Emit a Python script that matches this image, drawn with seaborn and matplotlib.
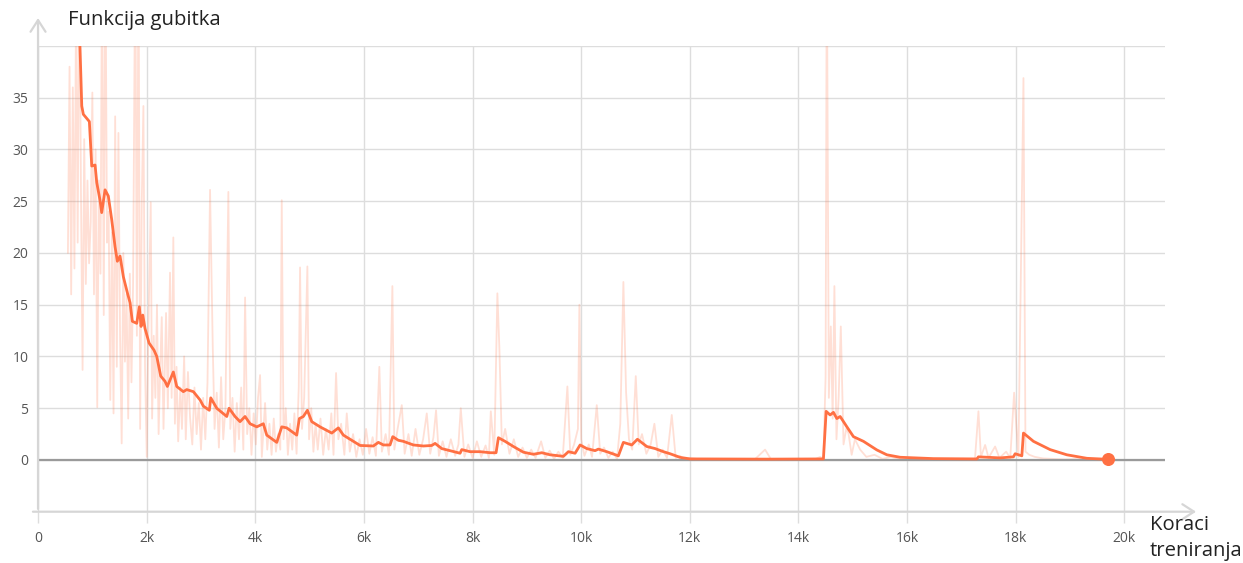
"""Loss curve (TensorBoard style) recreated with seaborn -> out.png"""

import matplotlib

matplotlib.use("Agg")
import matplotlib.pyplot as plt  # noqa: E402
import pandas as pd  # noqa: E402
import seaborn as sns  # noqa: E402

# smoothed loss (step, value)
smooth_steps = [
    700, 773, 805, 834, 945, 989, 1050, 1081, 1141, 1172, 1234, 1294, 1357, 1418,
    1460, 1510, 1571, 1652, 1694, 1736, 1817, 1865, 1897, 1928, 1970, 2044, 2136,
    2186, 2259, 2338, 2381, 2443, 2491, 2554, 2675, 2738, 2860, 2983, 3044, 3154,
    3180, 3290, 3475, 3517, 3627, 3719, 3811, 3904, 4027, 4148, 4211, 4395, 4487,
    4579, 4763, 4811, 4885, 4959, 5040, 5192, 5408, 5529, 5622, 5806, 5929, 6174,
    6266, 6358, 6481, 6531, 6634, 6726, 6910, 7095, 7249, 7310, 7433, 7586, 7770,
    7801, 7954, 8138, 8323, 8433, 8476, 8599, 8752, 8936, 9120, 9275, 9427, 9672,
    9765, 9888, 9980, 10103, 10256, 10317, 10471, 10685, 10777, 10931, 11035,
    11208, 11361, 11514, 11637, 11821, 12005, 12189, 13418, 14460, 14510, 14583,
    14644, 14707, 14768, 14892, 15013, 15197, 15443, 15627, 15872, 16485, 17284,
    17314, 17713, 17958, 17990, 18113, 18143, 18327, 18634, 18941, 19310, 19707,
]
smooth_loss = [
    48.0, 39.8, 34.2, 33.4, 32.7, 28.4, 28.5, 26.8, 25.1, 23.9, 26.1, 25.5, 23.2,
    20.6, 19.2, 19.7, 17.7, 16.0, 15.2, 13.4, 13.2, 14.8, 12.9, 14.0, 12.7, 11.3,
    10.6, 10.0, 8.1, 7.6, 7.1, 7.9, 8.5, 7.1, 6.6, 6.8, 6.6, 5.8, 5.2, 4.8, 6.0,
    5.0, 4.2, 5.0, 4.2, 3.7, 4.2, 3.5, 3.2, 3.5, 2.4, 1.7, 3.2, 3.1, 2.4, 4.0, 4.2,
    4.8, 3.7, 3.2, 2.6, 3.1, 2.4, 1.8, 1.4, 1.35, 1.7, 1.45, 1.45, 2.25, 1.9, 1.8,
    1.45, 1.35, 1.4, 1.6, 1.1, 0.9, 0.65, 1.0, 0.8, 0.8, 0.7, 0.7, 2.15, 1.8, 1.3,
    0.75, 0.55, 0.7, 0.5, 0.35, 0.8, 0.65, 1.45, 1.1, 0.9, 1.05, 0.8, 0.4, 1.7,
    1.45, 2.0, 1.3, 1.1, 0.8, 0.6, 0.25, 0.1, 0.1, 0.08, 0.1, 4.7, 4.35, 4.6, 4.0,
    4.2, 3.2, 2.25, 1.8, 0.97, 0.5, 0.26, 0.13, 0.1, 0.3, 0.2, 0.3, 0.6, 0.4, 2.6,
    1.8, 1.0, 0.5, 0.16, 0.06,
]

# raw (unsmoothed) loss
raw_steps = [
    550, 580, 610, 640, 670, 700, 730, 760, 790, 820, 850, 880, 910, 940, 970,
    1000, 1030, 1060, 1090, 1120, 1150, 1180, 1210, 1240, 1270, 1300, 1330, 1360,
    1390, 1420, 1450, 1480, 1510, 1540, 1570, 1600, 1630, 1660, 1690, 1720, 1750,
    1790, 1820, 1850, 1880, 1910, 1940, 1970, 2002, 2030, 2075, 2100, 2130, 2160,
    2190, 2220, 2250, 2278, 2310, 2357, 2390, 2430, 2460, 2491, 2520, 2550, 2580,
    2620, 2650, 2690, 2720, 2760, 2800, 2840, 2880, 2920, 2960, 3000, 3040, 3080,
    3120, 3167, 3217, 3250, 3290, 3330, 3370, 3410, 3450, 3504, 3540, 3580, 3620,
    3660, 3700, 3740, 3780, 3812, 3850, 3890, 3930, 3970, 4010, 4050, 4088, 4120,
    4180, 4220, 4260, 4300, 4340, 4380, 4420, 4460, 4487, 4520, 4560, 4600, 4640,
    4680, 4720, 4760, 4800, 4824, 4860, 4900, 4959, 4990, 5030, 5070, 5110, 5150,
    5200, 5250, 5300, 5350, 5400, 5440, 5487, 5530, 5580, 5640, 5684, 5740, 5800,
    5860, 5920, 5980, 6040, 6100, 6160, 6220, 6284, 6330, 6400, 6460, 6524, 6560,
    6620, 6697, 6750, 6820, 6880, 6950, 7020, 7090, 7157, 7220, 7280, 7328, 7380,
    7450, 7520, 7600, 7680, 7740, 7783, 7850, 7920, 8000, 8080, 8160, 8240, 8300,
    8336, 8400, 8457, 8494, 8540, 8600, 8680, 8760, 8840, 8920, 9000, 9080, 9160,
    9262, 9340, 9420, 9500, 9580, 9660, 9746, 9800, 9870, 9940, 9967, 10000,
    10060, 10140, 10200, 10287, 10350, 10420, 10500, 10580, 10660, 10720, 10777,
    10827, 10880, 10940, 11005, 11060, 11120, 11200, 11280, 11348, 11420, 11500,
    11580, 11668, 11740, 11820, 11900, 12000, 12200, 12400, 12600, 12800, 13000,
    13200, 13386, 13500, 13700, 13900, 14100, 14300, 14400, 14460, 14500, 14522,
    14560, 14596, 14630, 14662, 14700, 14740, 14780, 14830, 14880, 14920, 14980,
    15040, 15136, 15250, 15400, 15550, 15700, 15900, 16100, 16300, 16500, 16700,
    16900, 17100, 17250, 17314, 17360, 17437, 17500, 17621, 17700, 17824, 17900,
    17971, 18050, 18143, 18180, 18250, 18350, 18500, 18700, 18900, 19100, 19300,
    19500, 19707,
]
raw_loss = [
    20.0, 38.0, 16.0, 36.0, 18.5, 44.0, 21.0, 50.0, 26.0, 8.7, 31.0, 17.0, 27.0,
    19.0, 23.0, 35.5, 16.0, 30.0, 5.1, 27.0, 18.0, 50.0, 14.0, 50.0, 21.0, 24.0,
    5.8, 22.0, 4.5, 33.2, 9.0, 31.6, 12.0, 1.6, 20.0, 9.5, 16.0, 4.0, 18.0, 7.5,
    17.0, 50.0, 12.0, 50.0, 3.0, 25.0, 34.2, 9.0, 0.3, 12.0, 24.9, 4.0, 12.0, 6.0,
    15.0, 2.5, 9.0, 13.8, 3.0, 14.2, 5.0, 18.1, 6.0, 21.5, 3.5, 9.0, 1.8, 7.0, 3.0,
    10.0, 2.0, 8.5, 4.0, 1.5, 7.0, 2.5, 5.5, 1.0, 6.0, 2.0, 7.5, 26.1, 10.9, 3.0,
    6.5, 1.2, 8.0, 2.0, 5.0, 25.9, 3.0, 6.0, 0.8, 5.5, 2.0, 7.0, 1.0, 15.7, 2.5,
    5.0, 0.5, 4.5, 1.5, 6.0, 8.2, 0.3, 5.5, 1.0, 3.5, 0.5, 4.0, 0.8, 2.5, 1.0,
    25.1, 2.0, 5.0, 0.5, 3.5, 1.0, 4.5, 0.6, 7.0, 18.6, 3.0, 6.0, 18.7, 2.0, 5.0,
    0.8, 3.5, 1.0, 4.0, 0.5, 3.0, 1.0, 4.5, 0.5, 8.4, 2.0, 3.5, 0.5, 4.5, 0.8, 2.5,
    0.3, 2.0, 0.5, 3.0, 0.6, 2.2, 0.4, 9.0, 0.8, 2.5, 0.5, 16.8, 1.0, 3.0, 5.3,
    0.6, 2.5, 0.4, 3.0, 0.5, 2.0, 4.5, 0.6, 2.2, 4.8, 0.4, 1.8, 0.3, 2.0, 0.4, 1.5,
    5.0, 0.3, 1.5, 0.2, 1.8, 0.3, 1.4, 0.2, 4.7, 0.5, 16.1, 10.8, 1.5, 3.0, 0.6,
    2.0, 0.3, 1.2, 0.2, 1.0, 0.2, 1.8, 0.2, 0.9, 0.1, 0.8, 0.2, 7.1, 0.5, 1.5, 3.0,
    15.0, 2.0, 0.4, 1.5, 0.3, 5.3, 0.6, 1.2, 0.2, 0.8, 0.1, 3.5, 17.2, 6.5, 2.0,
    1.0, 8.1, 1.5, 2.5, 0.6, 1.5, 3.5, 0.3, 1.0, 0.2, 4.35, 0.2, 0.4, 0.05, 0.2,
    0.05, 0.1, 0.02, 0.1, 0.02, 0.08, 1.0, 0.02, 0.08, 0.02, 0.1, 0.05, 0.3, 0.1,
    8.0, 50.0, 6.0, 12.9, 4.0, 16.8, 2.0, 6.0, 12.9, 1.5, 3.0, 2.6, 0.5, 2.0, 1.0,
    0.3, 0.5, 0.1, 0.3, 0.05, 0.15, 0.02, 0.1, 0.02, 0.08, 0.02, 0.1, 4.7, 0.3,
    1.45, 0.2, 1.3, 0.2, 0.8, 0.2, 6.5, 0.3, 36.9, 0.8, 0.5, 0.3, 0.15, 0.1, 0.05,
    0.08, 0.02, 0.05, 0.02,
]

x_ticks = [0, 2000, 4000, 6000, 8000, 10000, 12000, 14000, 16000, 18000, 20000]
x_tick_labels = ["0", "2k", "4k", "6k", "8k", "10k", "12k", "14k", "16k", "18k", "20k"]
y_ticks = [-5, 0, 5, 10, 15, 20, 25, 30, 35, 40]
y_tick_labels = ["", "0", "5", "10", "15", "20", "25", "30", "35", ""]

LINE = "#ff7043"
GRID = "#dddddd"
AXIS = "#d6d6d6"

sns.set_theme(style="whitegrid", rc={"grid.color": GRID, "grid.linewidth": 1.0})
plt.rcParams["font.family"] = ["Open Sans", "DejaVu Sans"]

raw = pd.DataFrame({"step": raw_steps, "loss": raw_loss})
smooth = pd.DataFrame({"step": smooth_steps, "loss": smooth_loss})

fig = plt.figure(figsize=(12.43, 5.63), dpi=100)
ax = fig.add_axes([0.0306, 0.0911, 0.9067, 0.8272])

sns.lineplot(data=raw, x="step", y="loss", ax=ax, color=LINE, alpha=0.22,
             linewidth=1.3, estimator=None, sort=False)
ax.axhline(0, color="#9a9a9a", linewidth=1.6, zorder=2)
sns.lineplot(data=smooth, x="step", y="loss", ax=ax, color=LINE,
             linewidth=2.0, estimator=None, sort=False, zorder=3)
ax.scatter([smooth_steps[-1]], [smooth_loss[-1]], s=70, color=LINE, zorder=4,
           clip_on=False)

ax.set_xlim(0, 20750)
ax.set_ylim(-5, 40)
ax.set_xticks(x_ticks)
ax.set_xticklabels(x_tick_labels)
ax.set_yticks(y_ticks)
ax.set_yticklabels(y_tick_labels)
ax.set_xlabel("")
ax.set_ylabel("")
ax.tick_params(axis="x", length=8, width=1, color=GRID, pad=6,
               labelsize=10, labelcolor="#555555", bottom=True)
ax.tick_params(axis="y", length=0, pad=7, labelsize=10, labelcolor="#555555")

for side in ("top", "right", "left", "bottom"):
    ax.spines[side].set_visible(False)

# axis lines with open arrow heads
ax.annotate("", xy=(0, 1.066), xytext=(0, 0), xycoords="axes fraction",
            arrowprops=dict(arrowstyle="->,head_length=0.7,head_width=0.45",
                            color=AXIS, lw=1.6), annotation_clip=False)
ax.annotate("", xy=(1.03, 0), xytext=(-0.007, 0), xycoords="axes fraction",
            arrowprops=dict(arrowstyle="->,head_length=0.7,head_width=0.45",
                            color=AXIS, lw=1.6), annotation_clip=False)

fig.text(68 / 1243, 1 - 20 / 563, "Funkcija gubitka", fontsize=14.6,
         color="#222222", va="center", ha="left")
fig.text(1150 / 1243, 1 - 525 / 563, "Koraci", fontsize=14.6,
         color="#222222", va="center", ha="left")
fig.text(1150 / 1243, 1 - 551 / 563, "treniranja", fontsize=14.6,
         color="#222222", va="center", ha="left")

fig.savefig("out.png", dpi=100)
